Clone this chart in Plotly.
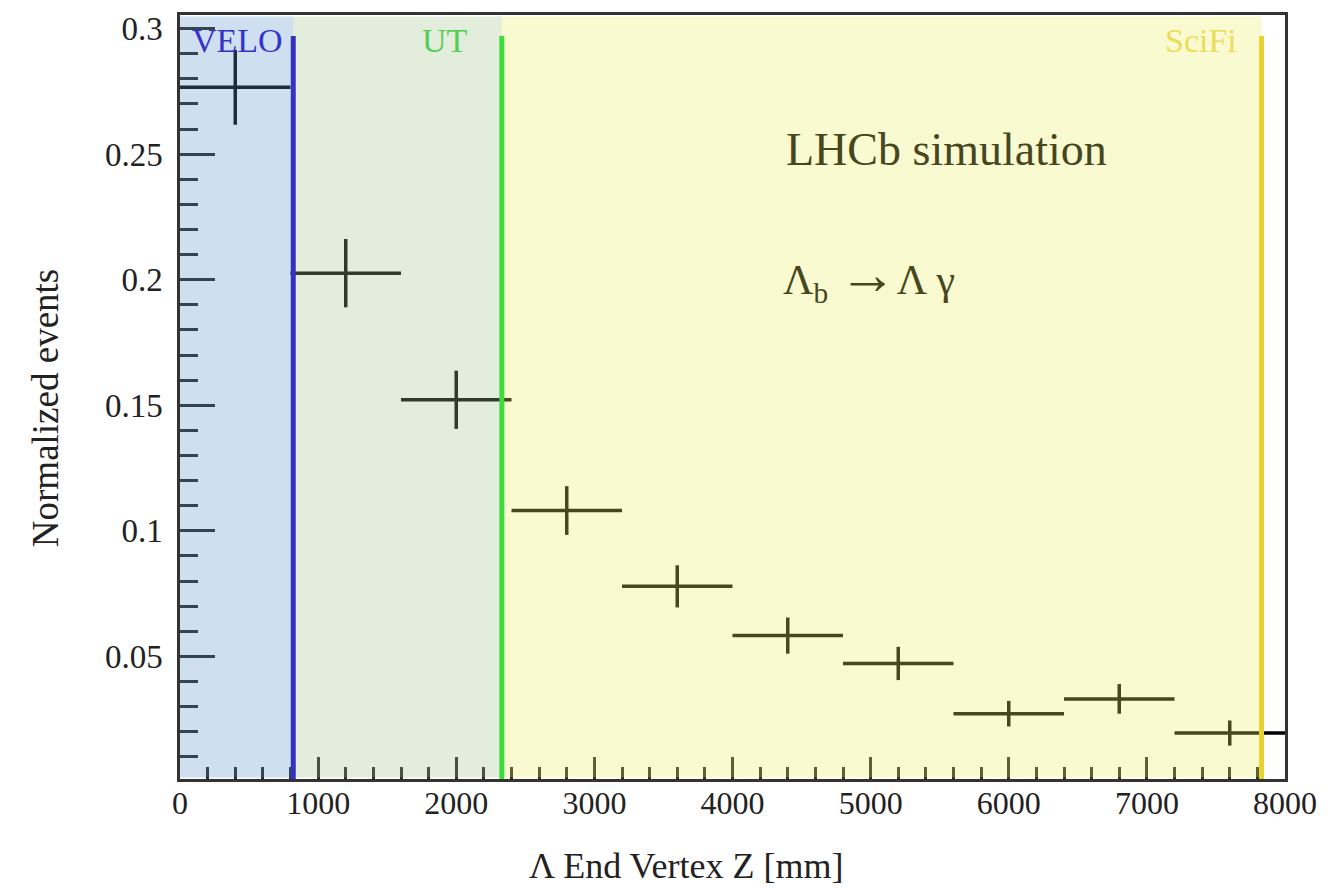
import plotly.graph_objects as go

# Data
bin_centers = [400, 1200, 2000, 2800, 3600, 4400, 5200, 6000, 6800, 7600]
bin_half_width = [400] * 10
values = [0.2766, 0.2026, 0.1522, 0.1081, 0.0779, 0.0583, 0.0472, 0.0272, 0.0331, 0.0195]
errors = [0.0149, 0.0136, 0.0116, 0.0097, 0.0084, 0.0072, 0.0066, 0.0051, 0.0059, 0.0050]

# Detector regions (z positions in mm)
region_names = ["VELO", "UT", "SciFi"]
region_edges = [0, 820, 2330, 7830]
region_fill = ["rgba(95,148,205,0.30)", "rgba(158,195,138,0.30)", "rgba(240,240,100,0.30)"]
region_line = ["#3434bb", "#3cdc3c", "#e8d232"]
region_text_color = ["#3434c8", "#55cc55", "#ebdc5a"]
region_label_x = [72, 1738, 7118]

x_ticks = [0, 1000, 2000, 3000, 4000, 5000, 6000, 7000, 8000]
y_ticks = [0.05, 0.1, 0.15, 0.2, 0.25, 0.3]
y_ticklabels = ["0.05", "0.1", "0.15", "0.2", "0.25", "0.3"]

FONT = "Liberation Serif, Times New Roman, Times, serif"

fig = go.Figure()
fig.add_trace(go.Scatter(
    x=bin_centers, y=values,
    mode="markers",
    marker=dict(size=1, color="black"),
    error_x=dict(type="data", array=bin_half_width, width=0, thickness=3.5, color="black"),
    error_y=dict(type="data", array=errors, width=0, thickness=3.5, color="black"),
    showlegend=False, hoverinfo="skip",
))

shapes = []
for i in range(3):
    shapes.append(dict(type="rect", xref="x", yref="paper",
                       x0=region_edges[i], x1=region_edges[i + 1], y0=0.002, y1=0.998,
                       fillcolor=region_fill[i], line=dict(width=0), layer="above"))
for i in range(3):
    shapes.append(dict(type="line", xref="x", yref="y",
                       x0=region_edges[i + 1], x1=region_edges[i + 1], y0=0.0012, y1=0.297,
                       line=dict(color=region_line[i], width=5), layer="above"))

annotations = []
for i in range(3):
    annotations.append(dict(x=region_label_x[i], y=0.2952, xref="x", yref="y",
                            text=region_names[i], showarrow=False,
                            xanchor="left", yanchor="middle",
                            font=dict(family=FONT, size=34, color=region_text_color[i])))
annotations.append(dict(x=4370, y=0.2517, xref="x", yref="y", text="LHCb simulation",
                        showarrow=False, xanchor="left", yanchor="middle",
                        font=dict(family=FONT, size=46, color="#46461f")))
annotations.append(dict(x=4350, y=0.2015, xref="x", yref="y",
                        text="Λ<sub>b</sub> <span style='font-size:58px'>→</span>Λ γ",
                        showarrow=False, xanchor="left", yanchor="middle",
                        font=dict(family=FONT, size=42, color="#46461f")))
annotations.append(dict(x=0.458, y=-0.114, xref="paper", yref="paper",
                        text="Λ End Vertex Z [mm]", showarrow=False,
                        xanchor="center", yanchor="middle",
                        font=dict(family=FONT, size=36, color="#222222")))
annotations.append(dict(x=-0.122, y=0.4856, xref="paper", yref="paper",
                        text="Normalized events", showarrow=False, textangle=-90,
                        xanchor="center", yanchor="middle",
                        font=dict(family=FONT, size=37, color="#222222")))

fig.update_layout(
    width=1334, height=888,
    margin=dict(l=180, r=49, t=15, b=109),
    paper_bgcolor="white", plot_bgcolor="white",
    shapes=shapes, annotations=annotations,
    font=dict(family=FONT, size=30, color="#222222"),
)
fig.update_xaxes(
    range=[0, 8000], tickvals=x_ticks, ticktext=[str(v) for v in x_ticks],
    ticks="inside", ticklen=22, tickwidth=2.5, tickcolor="#222222",
    minor=dict(dtick=200, tick0=0, ticks="inside", ticklen=12, tickwidth=2.5, tickcolor="#222222"),
    showline=True, linecolor="#333333", linewidth=2.5, mirror=True,
    showgrid=False, zeroline=False, ticklabelstandoff=-6,
    tickfont=dict(family=FONT, size=32, color="#222222"),
)
fig.update_yaxes(
    range=[0.0012, 0.3054], tickvals=y_ticks, ticktext=y_ticklabels,
    ticks="inside", ticklen=35, tickwidth=2.5, tickcolor="#222222",
    minor=dict(dtick=0.01, tick0=0, ticks="inside", ticklen=18, tickwidth=2.5, tickcolor="#222222"),
    showline=True, linecolor="#333333", linewidth=2.5, mirror=True,
    showgrid=False, zeroline=False, ticklabelstandoff=8,
    tickfont=dict(family=FONT, size=33, color="#222222"),
)

fig.write_html(
    "out.html",
    config={"displayModeBar": False},
    post_script="document.body.style.margin='0px';document.body.style.overflow='hidden';",
)
